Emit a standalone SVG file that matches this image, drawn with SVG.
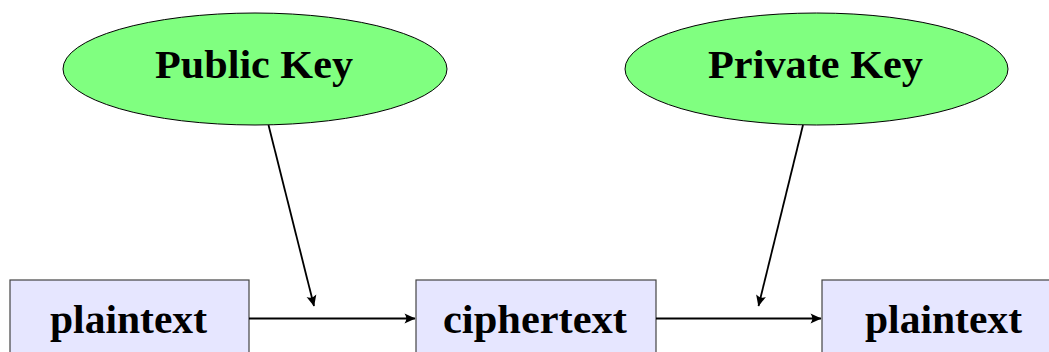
<svg xmlns="http://www.w3.org/2000/svg" width="1049" height="352" viewBox="0 0 1049 352">
  <style>
    .key ellipse { fill: #80ff80; stroke: #000; stroke-width: 1; }
    .msg rect { fill: #e6e6ff; stroke: #444; stroke-width: 1.2; }
    text { font-family: "Liberation Serif", "Times New Roman", serif; font-weight: bold; font-size: 39px; fill: #000; text-anchor: middle; }
    .edge { stroke: #000; stroke-width: 1.8; fill: none; marker-end: url(#tip); }
  </style>
  <defs>
    <marker id="tip" markerUnits="userSpaceOnUse" viewBox="-12 -6 13 12" refX="0" refY="0" markerWidth="13" markerHeight="12" orient="auto">
      <path d="M0.5,0 L-10.5,-5 Q-7,0 -10.5,5 Z" fill="#000"/>
    </marker>
  </defs>
  <rect width="1049" height="352" fill="#fff"/>

  <g id="public-key" class="key">
    <ellipse cx="255" cy="69" rx="192" ry="56"/>
    <text x="254" y="78" textLength="198" lengthAdjust="spacingAndGlyphs">Public Key</text>
  </g>
  <g id="private-key" class="key">
    <ellipse cx="816.5" cy="69" rx="191.5" ry="56"/>
    <text x="815.5" y="78" textLength="215" lengthAdjust="spacingAndGlyphs">Private Key</text>
  </g>

  <g id="plaintext-in" class="msg">
    <rect x="10" y="280" width="239" height="82"/>
    <text x="128.5" y="333" textLength="157" lengthAdjust="spacingAndGlyphs">plaintext</text>
  </g>
  <g id="ciphertext" class="msg">
    <rect x="416" y="280" width="240" height="82"/>
    <text x="535" y="333" textLength="184" lengthAdjust="spacingAndGlyphs">ciphertext</text>
  </g>
  <g id="plaintext-out" class="msg">
    <rect x="822" y="280" width="240" height="82"/>
    <text x="943.5" y="333" textLength="157" lengthAdjust="spacingAndGlyphs">plaintext</text>
  </g>

  <g id="connectors">
    <line class="edge" x1="249" y1="318.5" x2="415" y2="318.5"/>
    <line class="edge" x1="656" y1="318.5" x2="821" y2="318.5"/>
    <line class="edge" x1="268.5" y1="125" x2="314" y2="306"/>
    <line class="edge" x1="803" y1="125" x2="758.5" y2="306"/>
  </g>
</svg>
